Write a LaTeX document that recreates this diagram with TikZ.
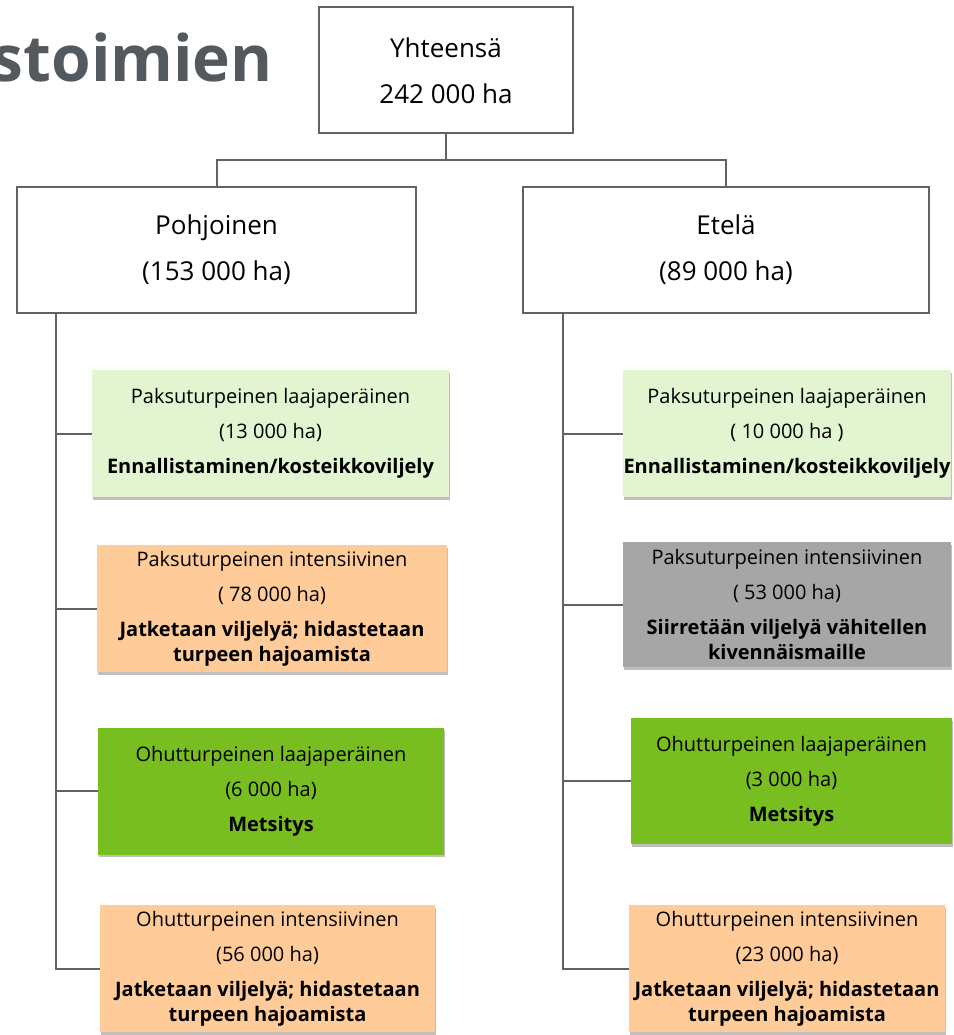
\documentclass[tikz,border=0pt]{standalone}
\usepackage{fontspec}
\setmainfont{Open Sans}
\usetikzlibrary{shadows}

\definecolor{linegray}{HTML}{5F6368}
\definecolor{titlegray}{HTML}{54595E}
\definecolor{paleleaf}{HTML}{E2F5D0}
\definecolor{peach}{HTML}{FFCC99}
\definecolor{grass}{HTML}{78BE20}
\definecolor{stone}{HTML}{A6A6A6}

\begin{document}
\begin{tikzpicture}[
  x=1pt, y=-1pt,
  link/.style      = {line width=2pt, draw=linegray},
  bigbox/.style    = {draw=linegray, line width=2pt, fill=white, align=center,
                      inner sep=0pt, minimum height=126pt,
                      font=\fontsize{26}{46}\selectfont},
  leaf/.style      = {align=center, inner sep=0pt, minimum height=127pt,
                      font=\fontsize{20}{25}\selectfont,
                      drop shadow={shadow xshift=1pt, shadow yshift=-2.5pt,
                                   fill=black, opacity=.25}},
  act/.style       = {font=\fontsize{19}{25}\selectfont\bfseries},
  title/.style     = {font=\fontsize{64}{64}\selectfont\bfseries, text=titlegray,
                      inner sep=0pt, anchor=base east},
]
  \useasboundingbox (0,0) rectangle (953,1035);

  \node[title] (ttl) at (273,82) {stoimien};

  \node[bigbox, minimum width=254pt] (tot)   at (446,70.5) {Yhteensä\\242 000 ha};
  \node[bigbox, minimum width=399pt] (north) at (216.5,250) {Pohjoinen\\(153 000 ha)};
  \node[bigbox, minimum width=406pt] (south) at (726,250) {Etelä\\(89 000 ha)};

  % pohjoinen
  \node[leaf, fill=paleleaf, minimum width=357pt] (l1) at (270.5,433.5)
    {Paksuturpeinen laajaperäinen\\[10pt](13 000 ha)\\[10pt]\textbf{Ennallistaminen/kosteikkoviljely}};
  \node[leaf, fill=peach, minimum width=350pt] (l2) at (272,608.5)
    {Paksuturpeinen intensiivinen\\[10pt]( 78 000 ha)\\[10pt]\textbf{Jatketaan viljelyä; hidastetaan}\\\textbf{turpeen hajoamista}};
  \node[leaf, fill=grass, minimum width=346pt] (l3) at (271,791)
    {Ohutturpeinen laajaperäinen\\[10pt](6 000 ha)\\[10pt]\textbf{Metsitys}};
  \node[leaf, fill=peach, minimum width=335pt] (l4) at (267.5,968.5)
    {Ohutturpeinen intensiivinen\\[10pt](56 000 ha)\\[10pt]\textbf{Jatketaan viljelyä; hidastetaan}\\\textbf{turpeen hajoamista}};

  % etelä
  \node[leaf, fill=paleleaf, minimum width=328pt] (r1) at (787,433.5)
    {Paksuturpeinen laajaperäinen\\[10pt]( 10 000 ha )\\[10pt]\textbf{Ennallistaminen/kosteikkoviljely}};
  \node[leaf, fill=stone, minimum width=328pt, minimum height=125pt] (r2) at (787,604.5)
    {Paksuturpeinen intensiivinen\\[10pt]( 53 000 ha)\\[10pt]\textbf{Siirretään viljelyä vähitellen}\\\textbf{kivennäismaille}};
  \node[leaf, fill=grass, minimum width=321pt, minimum height=126pt] (r3) at (791.5,781)
    {Ohutturpeinen laajaperäinen\\[10pt](3 000 ha)\\[10pt]\textbf{Metsitys}};
  \node[leaf, fill=peach, minimum width=316pt] (r4) at (787,968.5)
    {Ohutturpeinen intensiivinen\\[10pt](23 000 ha)\\[10pt]\textbf{Jatketaan viljelyä; hidastetaan}\\\textbf{turpeen hajoamista}};

  \coordinate (fork) at (446,160);
  \draw[link] (tot.south) -- (fork);
  \draw[link] (north.north) |- (fork) -| (south.north);

  \coordinate (ntrunk) at ([xshift=40pt]north.south west);
  \coordinate (strunk) at ([xshift=41pt]south.south west);
  \draw[link] (ntrunk) |- (l4.west);
  \draw[link] (strunk) |- (r4.west);
  \foreach \leaf in {l1,l2,l3}
    \draw[link] (\leaf.west -| ntrunk) -- (\leaf.west);
  \foreach \leaf in {r1,r2,r3}
    \draw[link] (\leaf.west -| strunk) -- (\leaf.west);
\end{tikzpicture}
\end{document}
